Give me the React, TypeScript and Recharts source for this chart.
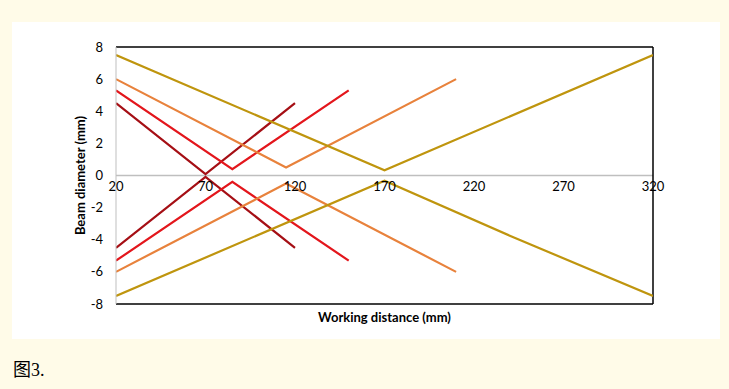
import { LineChart, Line, XAxis, YAxis, ReferenceLine } from "recharts";

const xTicks = [20, 70, 120, 170, 220, 270, 320];
const yTicks = [-8, -6, -4, -2, 0, 2, 4, 6, 8];

const darkRedUpper = [
  { x: 20, y: 4.5 },
  { x: 70, y: 0.08 },
  { x: 120, y: 4.5 }
];
const darkRedLower = [
  { x: 20, y: -4.5 },
  { x: 70, y: -0.08 },
  { x: 120, y: -4.5 }
];
const redUpper = [
  { x: 20, y: 5.3 },
  { x: 85, y: 0.4 },
  { x: 150, y: 5.3 }
];
const redLower = [
  { x: 20, y: -5.3 },
  { x: 85, y: -0.4 },
  { x: 150, y: -5.3 }
];
const orangeUpper = [
  { x: 20, y: 6.0 },
  { x: 115, y: 0.5 },
  { x: 210, y: 6.0 }
];
const orangeLower = [
  { x: 20, y: -6.0 },
  { x: 115, y: -0.5 },
  { x: 210, y: -6.0 }
];
const oliveUpper = [
  { x: 20, y: 7.5 },
  { x: 170, y: 0.33 },
  { x: 320, y: 7.5 }
];
const oliveLower = [
  { x: 20, y: -7.5 },
  { x: 170, y: -0.33 },
  { x: 240, y: -3.75 },
  { x: 320, y: -7.5 }
];

const series = [
  { data: darkRedUpper, color: "#a50f15" },
  { data: darkRedLower, color: "#a50f15" },
  { data: redUpper, color: "#e3161c" },
  { data: redLower, color: "#e3161c" },
  { data: orangeUpper, color: "#e8823c" },
  { data: orangeLower, color: "#e8823c" },
  { data: oliveUpper, color: "#bf950e" },
  { data: oliveLower, color: "#bf950e" }
];

const font = "Lato, 'Open Sans', sans-serif";

// x labels sit just under the zero line, not under the frame
const ZeroTick = (props: any) => {
  const { x, y, payload } = props;
  return (
    <text x={x} y={y - 113} textAnchor="middle" fontSize={13} fontFamily={font} fill="#000">
      {payload.value}
    </text>
  );
};

export default function App() {
  return (
    <div
      style={{
        position: "absolute",
        left: 0,
        top: 0,
        width: 729,
        height: 389,
        background: "#fffbe8"
      }}
    >
      <div style={{ position: "absolute", left: 12, top: 22, width: 708, height: 317, background: "#fff" }}>
        <LineChart width={708} height={317} margin={{ top: 25, right: 67, left: 0, bottom: 0 }}>
          <XAxis
            type="number"
            dataKey="x"
            domain={[20, 320]}
            ticks={xTicks}
            allowDataOverflow
            tickLine={false}
            tickSize={0}
            tickMargin={0}
            height={35}
            axisLine={{ stroke: "#000", strokeWidth: 1.5 }}
            tick={<ZeroTick />}
            label={{
              value: "Working distance (mm)",
              position: "insideBottom",
              offset: 17,
              style: { fontFamily: font, fontSize: 13, fontWeight: 700, fill: "#000" }
            }}
          />
          <YAxis
            type="number"
            domain={[-8, 8]}
            ticks={yTicks}
            width={104}
            tickLine={false}
            tickSize={0}
            tickMargin={13}
            axisLine={{ stroke: "#bfbfbf" }}
            tick={{ fontFamily: font, fontSize: 13, fill: "#000" }}
            label={{
              value: "Beam diameter (mm)",
              angle: -90,
              position: "insideLeft",
              offset: 68,
              style: { textAnchor: "middle", fontFamily: font, fontSize: 13, fontWeight: 700, fill: "#000" }
            }}
          />
          <ReferenceLine y={0} stroke="#bfbfbf" strokeWidth={1.5} />
          <ReferenceLine y={8} stroke="#000" strokeWidth={1.5} />
          <ReferenceLine x={320} stroke="#000" strokeWidth={1.5} />
          {series.map((s, i) => (
            <Line
              key={i}
              data={s.data}
              dataKey="y"
              type="linear"
              stroke={s.color}
              strokeWidth={2.2}
              dot={false}
              activeDot={false}
              isAnimationActive={false}
            />
          ))}
        </LineChart>
      </div>
      <div
        style={{
          position: "absolute",
          left: 13,
          top: 355,
          fontFamily: "'Noto Sans CJK SC', serif",
          fontSize: 18,
          color: "#000"
        }}
      >
        图<span style={{ fontFamily: "'Liberation Serif', serif" }}>3.</span>
      </div>
    </div>
  );
}
